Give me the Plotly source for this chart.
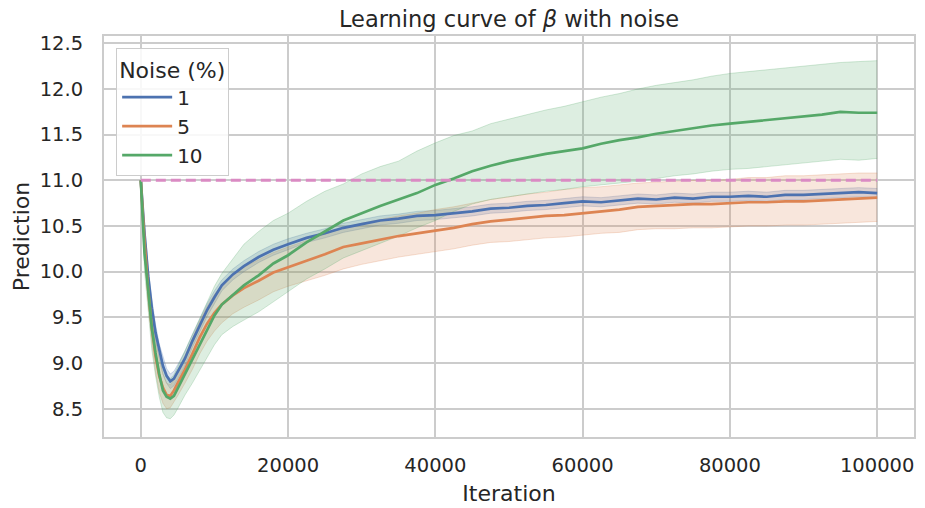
import plotly.graph_objects as go

# ---------------- data ----------------
iterations = [0, 250, 500, 1000, 1500, 2000, 2500, 3000, 3500, 4000, 4500, 5000, 6000, 7000,
              8000, 9000, 10000, 11000, 12500, 14000, 16000, 18000, 20000, 22500, 25000, 27500,
              30000, 32500, 35000, 37500, 40000, 42500, 45000, 47500, 50000, 52500, 55000, 57500,
              60000, 62500, 65000, 67500, 70000, 72500, 75000, 77500, 80000, 82500, 85000, 87500,
              90000, 92500, 95000, 97500, 100000]

noise_levels = ["1", "5", "10"]

mean_1 = [11.00, 10.70, 10.42, 9.95, 9.60, 9.33, 9.13, 8.97, 8.86, 8.80, 8.83, 8.90, 9.05, 9.24,
          9.42, 9.58, 9.72, 9.85, 9.97, 10.06, 10.16, 10.24, 10.30, 10.37, 10.42, 10.48,
          10.52, 10.56, 10.58, 10.61, 10.62, 10.64, 10.66, 10.69, 10.70, 10.72, 10.73, 10.75,
          10.77, 10.76, 10.78, 10.80, 10.79, 10.81, 10.80, 10.82, 10.82, 10.83, 10.82, 10.84,
          10.84, 10.85, 10.86, 10.87, 10.86]
lower_1 = [11.00, 10.64, 10.34, 9.86, 9.50, 9.24, 9.04, 8.88, 8.78, 8.72, 8.75, 8.82, 8.97, 9.17,
           9.35, 9.51, 9.65, 9.79, 9.91, 10.00, 10.10, 10.18, 10.24, 10.32, 10.37, 10.43,
           10.47, 10.51, 10.53, 10.56, 10.57, 10.59, 10.61, 10.64, 10.65, 10.67, 10.68, 10.70,
           10.72, 10.71, 10.73, 10.75, 10.74, 10.76, 10.75, 10.77, 10.77, 10.78, 10.77, 10.79,
           10.79, 10.80, 10.81, 10.82, 10.81]
upper_1 = [11.00, 10.76, 10.50, 10.04, 9.70, 9.42, 9.21, 9.06, 8.94, 8.88, 8.91, 8.98, 9.13, 9.31,
           9.49, 9.65, 9.79, 9.91, 10.03, 10.12, 10.22, 10.30, 10.36, 10.42, 10.47, 10.53,
           10.57, 10.61, 10.63, 10.66, 10.67, 10.69, 10.71, 10.74, 10.75, 10.77, 10.78, 10.80,
           10.82, 10.81, 10.83, 10.85, 10.84, 10.86, 10.85, 10.87, 10.87, 10.88, 10.87, 10.89,
           10.89, 10.90, 10.91, 10.92, 10.91]

mean_5 = [11.00, 10.65, 10.33, 9.80, 9.38, 9.07, 8.86, 8.73, 8.65, 8.64, 8.70, 8.78, 8.93, 9.10,
          9.28, 9.43, 9.55, 9.64, 9.74, 9.82, 9.90, 9.99, 10.05, 10.12, 10.19, 10.27,
          10.31, 10.35, 10.39, 10.42, 10.45, 10.48, 10.52, 10.55, 10.57, 10.59, 10.61, 10.62,
          10.64, 10.66, 10.68, 10.71, 10.72, 10.73, 10.74, 10.74, 10.75, 10.76, 10.76, 10.77,
          10.77, 10.78, 10.79, 10.80, 10.81]
lower_5 = [11.00, 10.58, 10.22, 9.65, 9.22, 8.90, 8.68, 8.56, 8.50, 8.51, 8.57, 8.64, 8.78, 8.93,
           9.10, 9.24, 9.35, 9.44, 9.54, 9.61, 9.69, 9.78, 9.84, 9.90, 9.96, 10.03,
           10.08, 10.12, 10.16, 10.19, 10.22, 10.25, 10.29, 10.32, 10.33, 10.35, 10.37, 10.38,
           10.40, 10.42, 10.43, 10.46, 10.47, 10.47, 10.48, 10.48, 10.49, 10.50, 10.50, 10.51,
           10.51, 10.52, 10.53, 10.54, 10.55]
upper_5 = [11.00, 10.72, 10.45, 9.95, 9.55, 9.25, 9.04, 8.88, 8.78, 8.76, 8.82, 8.92, 9.08, 9.27,
           9.46, 9.62, 9.75, 9.85, 9.96, 10.05, 10.13, 10.21, 10.27, 10.34, 10.41, 10.48,
           10.53, 10.57, 10.61, 10.64, 10.68, 10.71, 10.75, 10.79, 10.82, 10.85, 10.87, 10.90,
           10.92, 10.93, 10.95, 10.97, 10.98, 10.99, 11.00, 11.00, 11.01, 11.03, 11.03, 11.05,
           11.05, 11.06, 11.07, 11.08, 11.08]

mean_10 = [11.00, 10.55, 10.20, 9.80, 9.38, 9.11, 8.88, 8.70, 8.63, 8.61, 8.64, 8.72, 8.88, 9.04,
           9.19, 9.36, 9.52, 9.64, 9.75, 9.85, 9.96, 10.09, 10.18, 10.32, 10.44, 10.56,
           10.64, 10.72, 10.79, 10.86, 10.95, 11.02, 11.10, 11.16, 11.21, 11.25, 11.29, 11.32,
           11.35, 11.40, 11.44, 11.47, 11.51, 11.54, 11.57, 11.60, 11.62, 11.64, 11.66, 11.68,
           11.70, 11.72, 11.75, 11.74, 11.74]
lower_10 = [11.00, 10.42, 10.00, 9.58, 9.14, 8.86, 8.63, 8.46, 8.40, 8.39, 8.43, 8.50, 8.65, 8.78,
            8.92, 9.06, 9.20, 9.31, 9.40, 9.47, 9.56, 9.67, 9.78, 9.92, 10.03, 10.15,
            10.23, 10.31, 10.39, 10.48, 10.56, 10.66, 10.74, 10.79, 10.82, 10.85, 10.88, 10.90,
            10.93, 10.95, 10.97, 10.99, 11.02, 11.05, 11.07, 11.10, 11.12, 11.13, 11.15, 11.17,
            11.19, 11.21, 11.23, 11.22, 11.24]
upper_10 = [11.00, 10.68, 10.40, 10.00, 9.62, 9.36, 9.14, 8.96, 8.87, 8.83, 8.87, 8.96, 9.13, 9.32,
            9.50, 9.68, 9.84, 9.98, 10.14, 10.30, 10.44, 10.56, 10.64, 10.77, 10.88, 10.96,
            11.07, 11.15, 11.21, 11.32, 11.41, 11.49, 11.54, 11.62, 11.67, 11.72, 11.77, 11.81,
            11.86, 11.91, 11.95, 12.00, 12.04, 12.07, 12.10, 12.14, 12.17, 12.19, 12.21, 12.23,
            12.25, 12.27, 12.29, 12.30, 12.31]

target_value = 11.0
target_span = [0, 100000]

x_ticks = [0, 20000, 40000, 60000, 80000, 100000]
y_ticks = [8.5, 9.0, 9.5, 10.0, 10.5, 11.0, 11.5, 12.0, 12.5]

# ---------------- styling ----------------
colors = ["#4C72B0", "#DD8452", "#55A868"]
band_fill = ["rgba(76,114,176,0.2)", "rgba(221,132,82,0.2)", "rgba(85,168,104,0.2)"]
band_edge = ["rgba(76,114,176,0.25)", "rgba(221,132,82,0.25)", "rgba(85,168,104,0.25)"]
means = [mean_1, mean_5, mean_10]
lowers = [lower_1, lower_5, lower_10]
uppers = [upper_1, upper_5, upper_10]

FONT = "DejaVu Sans"
TXT = "#262626"
GRID = "#cccccc"

fig = go.Figure()

# confidence bands (below all lines)
for i in range(3):
    fig.add_trace(go.Scatter(x=iterations, y=lowers[i], mode="lines",
                             line=dict(color=band_edge[i], width=1),
                             showlegend=False, hoverinfo="skip"))
    fig.add_trace(go.Scatter(x=iterations, y=uppers[i], mode="lines",
                             line=dict(color=band_edge[i], width=1),
                             fill="tonexty", fillcolor=band_fill[i],
                             showlegend=False, hoverinfo="skip"))

# mean lines
for i in range(3):
    fig.add_trace(go.Scatter(x=iterations, y=means[i], mode="lines",
                             line=dict(color=colors[i], width=2.7),
                             name=noise_levels[i]))

# target dashed line
fig.add_trace(go.Scatter(x=target_span, y=[target_value, target_value], mode="lines",
                         line=dict(color="#DA8BC3", width=3, dash="10px,5px"),
                         showlegend=False, hoverinfo="skip"))

fig.update_layout(
    width=925, height=508,
    margin=dict(l=104, r=11, t=36, b=71),
    paper_bgcolor="white", plot_bgcolor="white",
    font=dict(family=FONT, size=20, color=TXT),
    title=dict(text="Learning curve of <i>β</i> with noise", x=0.5, xanchor="center",
               xref="paper", y=1 - 19 / 508, yref="container", yanchor="middle",
               font=dict(family=FONT, size=22.5, color=TXT)),
    legend=dict(title=dict(text="Noise (%)", font=dict(size=22, color=TXT)),
                x=0.015, y=0.97, xanchor="left", yanchor="top",
                bgcolor="rgba(255,255,255,0.85)", bordercolor=GRID, borderwidth=1,
                font=dict(size=20, color=TXT), tracegroupgap=0,
                traceorder="normal", itemwidth=50),
    showlegend=True,
)

fig.update_xaxes(range=[-5000, 105000], tickvals=x_ticks, ticktext=[str(v) for v in x_ticks],
                 showgrid=True, gridcolor=GRID, gridwidth=1.6, zeroline=False,
                 showline=True, linecolor=GRID, linewidth=2, mirror=True,
                 ticks="outside", ticklen=10, tickcolor="rgba(0,0,0,0)",
                 tickfont=dict(size=19.5), automargin=False,
                 title=dict(text="Iteration", font=dict(size=22, color=TXT), standoff=9))
fig.update_yaxes(range=[8.19, 12.58], tickvals=y_ticks, ticktext=[f"{v:.1f}" for v in y_ticks],
                 showgrid=True, gridcolor=GRID, gridwidth=1.6, zeroline=False,
                 showline=True, linecolor=GRID, linewidth=2, mirror=True,
                 ticks="outside", ticklen=15, tickcolor="rgba(0,0,0,0)",
                 tickfont=dict(size=19.5), automargin=False,
                 title=dict(text="Prediction", font=dict(size=22, color=TXT), standoff=4))

fig.write_html("out.html")
